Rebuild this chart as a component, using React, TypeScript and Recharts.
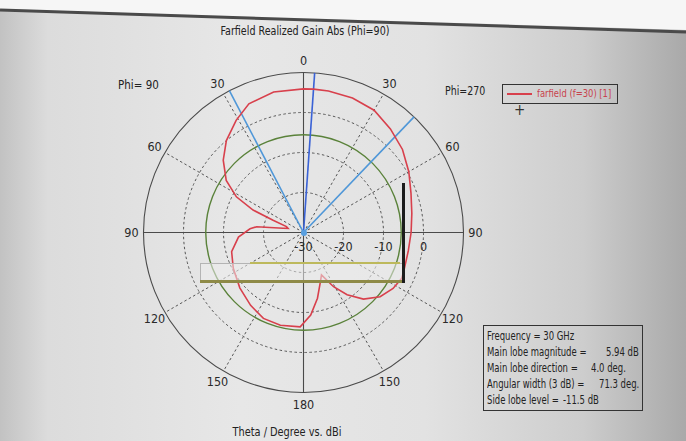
import {
  PolarAngleAxis,
  PolarGrid,
  PolarRadiusAxis,
  Radar,
  RadarChart,
} from "recharts";

// theta in degrees, measured clockwise from the top of the plot
const thetaDeg = [
  0, 4, 10, 20, 30, 40, 50, 60, 70, 80, 90, 100, 110, 115, 122, 130, 138, 145,
  151, 157, 161, 168, 175, 182, 194, 205, 216, 229, 243, 255, 266, 274, 277,
  282, 285, 289, 292, 294, 298, 304, 312, 320, 329, 337, 348,
];
const gainDb = [
  5.9, 5.94, 5.9, 5.8, 5.3, 3.8, 2.3, 0.4, -1.4, -2.5, -3.1, -3.4, -3.2, -2.9,
  -3.6, -5.0, -7.6, -11.0, -14.5, -18.5, -17.0, -13.2, -9.3, -6.4, -6.1, -6.3,
  -7.5, -8.9, -10.3, -11.4, -13.7, -16.6, -18.2, -24.8, -26.0, -25.5, -21.8,
  -16.2, -11.0, -6.7, -3.0, 0.0, 2.7, 4.95, 5.9,
];

const angleTicks = [0, 30, 60, 90, 120, 150, 180, 210, 240, 270, 300, 330];
const axisTheta = [0, 90, 180, 270];
const radialTicks = [-30, -20, -10, 0, 10];
const dashedRings = [-20, -10, 0];
const radialDomain = [-30, 10];

const mainLobeDir = [4.0];
const beamEdges = [-27.6, 43.7];
const sideLobeLevel = [5.94 - 11.5];

const infoLabels = [
  "Frequency = 30 GHz",
  "Main lobe magnitude =",
  "Main lobe direction =",
  "Angular width (3 dB) =",
  "Side lobe level =",
];
const infoValues = ["", "5.94 dB", "4.0 deg.", "71.3 deg.", "-11.5 dB"];
const infoValueX = [0, 122, 107, 115, 79];

const data = thetaDeg.map((theta, i) => ({ theta, gain: gainDb[i] }));

const W = 686;
const H = 441;
const CX = 303.5;
const CY = 232.5;
const R = 160;
const FONT = "'DejaVu Sans Condensed', 'Liberation Sans', Arial, sans-serif";

const toChartAngle = (theta: number) => 90 - theta;
const dbToRadius = (db: number) =>
  ((db - radialDomain[0]) / (radialDomain[1] - radialDomain[0])) * R;

function AngleTick(props: any) {
  const { x, y, payload } = props;
  const dx = x - CX;
  const dy = y - CY;
  const len = Math.sqrt(dx * dx + dy * dy) || 1;
  const v = payload.value;
  const label = v <= 180 ? v : 360 - v;
  return (
    <text
      x={CX + (dx / len) * 172}
      y={CY + (dy / len) * 172}
      textAnchor="middle"
      dominantBaseline="central"
      fontSize={12.5}
      fontFamily={FONT}
      fill="#2a2a2a"
    >
      {label}
    </text>
  );
}

function RadiusTick(props: any) {
  const { x, y, payload } = props;
  if (payload.value === 10) return <g />;
  return (
    <text
      x={x}
      y={y + 13.5}
      textAnchor="middle"
      dominantBaseline="central"
      fontSize={12.5}
      fontFamily={FONT}
      fill="#2a2a2a"
    >
      {payload.value}
    </text>
  );
}

const txt = (extra: any, squeeze = 1) => ({
  position: "absolute" as const,
  fontFamily: FONT,
  color: "#222",
  whiteSpace: "nowrap" as const,
  lineHeight: 1,
  transform: `scaleX(${squeeze})`,
  transformOrigin: "left center",
  ...extra,
});

export default function App() {
  return (
    <div
      style={{
        position: "absolute",
        left: 0,
        top: 0,
        width: W,
        height: H,
        overflow: "hidden",
        background:
          "linear-gradient(90deg, #c2c2c2 0%, #dcdcdc 7%, #e7e7e7 35%, #e2e2e2 62%, #cdcdcd 85%, #a9a9a9 100%)",
      }}
    >
      {/* screen edge at the top of the photo */}
      <svg width={W} height={40} style={{ position: "absolute", left: 0, top: 0 }}>
        <polygon points={`0,0 ${W},0 ${W},30 0,9`} fill="#f6f6f6" />
        <line x1={0} y1={10} x2={W} y2={32} stroke="#4a4a4a" strokeWidth={3} />
      </svg>

      <div style={txt({ left: 0, width: 610, top: 25, textAlign: "center", fontSize: 12.5, transformOrigin: "305px center" }, 0.85)}>
        Farfield Realized Gain Abs (Phi=90)
      </div>
      <div style={txt({ left: 118, top: 79, fontSize: 12.5 }, 0.92)}>Phi= 90</div>
      <div style={txt({ left: 445, top: 85, fontSize: 12.5 }, 0.84)}>Phi=270</div>
      <div style={txt({ left: 0, width: 574, top: 426, textAlign: "center", fontSize: 12.5, transformOrigin: "287px center" }, 0.87)}>
        Theta / Degree vs. dBi
      </div>

      <div style={{ position: "absolute", left: 0, top: 0 }}>
        <RadarChart
          width={W}
          height={H}
          data={data}
          cx={CX}
          cy={CY}
          outerRadius={R}
          startAngle={90}
          endAngle={-270}
          margin={{ top: 0, right: 0, bottom: 0, left: 0 }}
        >
          <PolarGrid
            gridType="circle"
            polarAngles={angleTicks
              .filter((t) => !axisTheta.includes(t))
              .map(toChartAngle)}
            polarRadius={dashedRings.map(dbToRadius)}
            stroke="#555"
            strokeDasharray="2.5 2.5"
          />
          <PolarGrid
            gridType="circle"
            polarAngles={axisTheta.map(toChartAngle)}
            polarRadius={[dbToRadius(radialDomain[1])]}
            stroke="#4a4a4a"
            strokeWidth={1.1}
          />
          <PolarGrid
            gridType="circle"
            polarAngles={[]}
            polarRadius={sideLobeLevel.map(dbToRadius)}
            stroke="#5a823a"
            strokeWidth={1.4}
          />
          <PolarGrid
            gridType="circle"
            polarAngles={beamEdges.map(toChartAngle)}
            polarRadius={[]}
            stroke="#4f97d8"
            strokeWidth={1.6}
          />
          <PolarGrid
            gridType="circle"
            polarAngles={mainLobeDir.map(toChartAngle)}
            polarRadius={[]}
            stroke="#3a62d6"
            strokeWidth={1.6}
          />
          <PolarAngleAxis
            dataKey="theta"
            type="number"
            domain={[0, 360]}
            ticks={angleTicks}
            tick={<AngleTick />}
            axisLine={false}
            tickLine={false}
          />
          <PolarRadiusAxis
            angle={0}
            type="number"
            domain={radialDomain}
            ticks={radialTicks}
            tickCount={5}
            tick={<RadiusTick />}
            axisLine={false}
            tickLine={false}
          />
          <Radar
            dataKey="gain"
            stroke="#d8404c"
            strokeWidth={1.6}
            fill="none"
            fillOpacity={0}
            dot={false}
            isAnimationActive={false}
          />
        </RadarChart>
      </div>

      {/* centre marker */}
      <div
        style={{
          position: "absolute",
          left: CX - 3,
          top: CY - 3,
          width: 6,
          height: 6,
          borderRadius: 3,
          background: "#5aa0e0",
        }}
      />

      {/* on-screen overlay caught in the photo */}
      <div
        style={{
          position: "absolute",
          left: 200,
          top: 263,
          width: 202,
          height: 18,
          border: "1px solid #b4b4b4",
          background: "rgba(236,236,236,0.55)",
        }}
      />
      <div style={{ position: "absolute", left: 250, top: 262, width: 150, height: 2, background: "#bdb95c" }} />
      <div style={{ position: "absolute", left: 200, top: 280, width: 205, height: 3, background: "#8e8a47" }} />
      <div style={{ position: "absolute", left: 402, top: 183, width: 3, height: 100, background: "#1c1c1c" }} />

      {/* legend */}
      <div
        style={{
          position: "absolute",
          left: 502,
          top: 84,
          width: 114,
          height: 18,
          border: "1.5px solid #333",
        }}
      >
        <div style={{ position: "absolute", left: 4, top: 8, width: 25, height: 1.5, background: "#d8404c" }} />
        <div style={txt({ left: 34, top: 3, fontSize: 11, color: "#c8434d" }, 0.85)}>farfield (f=30) [1]</div>
      </div>
      <div style={txt({ left: 514, top: 103, fontSize: 15, color: "#333" })}>+</div>

      {/* result box */}
      <div
        style={{
          position: "absolute",
          left: 483,
          top: 325,
          width: 158,
          height: 84,
          border: "1.5px solid #333",
        }}
      >
        {infoLabels.map((l, i) => (
          <div key={l}>
            <div style={txt({ left: 3, top: 5 + i * 16, fontSize: 11.5 }, 0.82)}>{l}</div>
            {infoValues[i] && (
              <div style={txt({ left: infoValueX[i], top: 5 + i * 16, fontSize: 11.5 }, 0.82)}>
                {infoValues[i]}
              </div>
            )}
          </div>
        ))}
      </div>
    </div>
  );
}
